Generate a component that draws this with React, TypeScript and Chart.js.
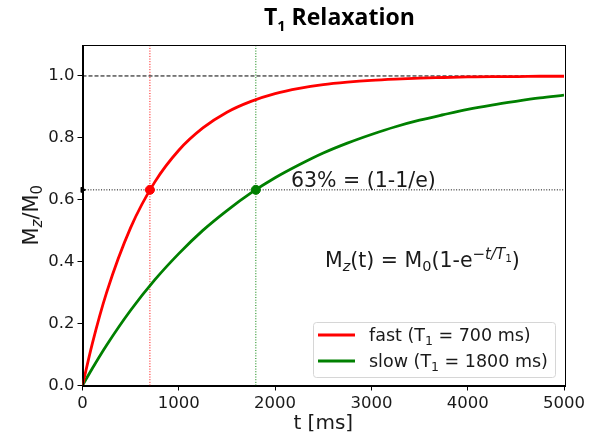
import React, { useEffect, useRef } from "react";
import { Chart, registerables } from "chart.js";

Chart.register(...registerables);

// Sample times (ms) and normalised longitudinal magnetisation Mz/M0
const timesMs = [0, 100, 250, 500, 750, 1000, 1250, 1500, 1750, 2000, 2250, 2500, 2750, 3000, 3250, 3500, 3750, 4000, 4250, 4500, 4750, 5000];
const fastMz = [0, 0.133, 0.300, 0.510, 0.657, 0.760, 0.832, 0.883, 0.918, 0.943, 0.960, 0.972, 0.980, 0.986, 0.990, 0.993, 0.995, 0.997, 0.998, 0.998, 0.999, 0.999];
const slowMz = [0, 0.054, 0.130, 0.243, 0.341, 0.426, 0.501, 0.565, 0.622, 0.671, 0.713, 0.751, 0.783, 0.811, 0.836, 0.857, 0.875, 0.892, 0.906, 0.918, 0.929, 0.938];

// T1 of each tissue and the 63 % recovery level
const t1Fast = 700;
const t1Slow = 1800;
const recoveryLevel = 0.632;
const fullLevel = 1.0;

// Axis ranges and ticks
const xMin = 0;
const xMax = 5000;
const yMin = 0;
const yMax = 1.1;
const xTicks = [0, 1000, 2000, 3000, 4000, 5000];
const yTicks = [0, 0.2, 0.4, 0.6, 0.8, 1.0];

const legendFast = "fast";
const legendSlow = "slow";

const RED = "#ff0000";
const GREEN = "#008000";
const TEXT = "#1a1a1a";
const SANS = "'DejaVu Sans', sans-serif";

type Part = { text: string; size: number; dy?: number; italic?: boolean; bold?: boolean; family?: string };

function fontOf(p: Part) {
  return `${p.italic ? "italic " : ""}${p.bold ? "bold " : ""}${p.size}px ${p.family || SANS}`;
}

// Draws a run of text pieces (with sub/superscripts) starting at x, on baseline y
function drawRich(ctx: CanvasRenderingContext2D, parts: Part[], x: number, y: number, align: "left" | "center" = "left") {
  let total = 0;
  for (const p of parts) {
    ctx.font = fontOf(p);
    total += ctx.measureText(p.text).width;
  }
  let cx = align === "center" ? x - total / 2 : x;
  ctx.textAlign = "left";
  ctx.textBaseline = "alphabetic";
  for (const p of parts) {
    ctx.font = fontOf(p);
    ctx.fillText(p.text, cx, y + (p.dy || 0));
    cx += ctx.measureText(p.text).width;
  }
}

const decorations = {
  id: "relaxationDecor",
  afterDraw(chart: any) {
    const ctx: CanvasRenderingContext2D = chart.ctx;
    const area = chart.chartArea;
    ctx.save();

    // frame
    ctx.strokeStyle = "#000";
    ctx.lineWidth = 1;
    ctx.strokeRect(Math.round(area.left) + 0.5, Math.round(area.top) + 0.5, Math.round(area.right - area.left), Math.round(area.bottom - area.top));

    ctx.fillStyle = "#000";
    // title
    drawRich(
      ctx,
      [
        { text: "T", size: 23, bold: true, family: "'Open Sans', sans-serif" },
        { text: "1", size: 14.5, bold: true, dy: 6, family: "'Open Sans', sans-serif" },
        { text: " Relaxation", size: 23, bold: true, family: "'Open Sans', sans-serif" },
      ],
      264,
      25
    );

    ctx.fillStyle = TEXT;
    // x axis title
    drawRich(ctx, [{ text: "t [ms]", size: 20 }], (area.left + area.right) / 2, 429, "center");

    // y axis title (rotated)
    ctx.save();
    ctx.translate(38, (area.top + area.bottom) / 2);
    ctx.rotate(-Math.PI / 2);
    drawRich(
      ctx,
      [
        { text: "M", size: 21 },
        { text: "z", size: 15, italic: true, dy: 4 },
        { text: "/M", size: 21 },
        { text: "0", size: 15, dy: 4 },
      ],
      0,
      0,
      "center"
    );
    ctx.restore();

    // annotations
    drawRich(ctx, [{ text: "63% = (1-1/e)", size: 20.5 }], 291, 187);
    drawRich(
      ctx,
      [
        { text: "M", size: 20.5 },
        { text: "z", size: 14.5, italic: true, dy: 4 },
        { text: "(t) = M", size: 20.5 },
        { text: "0", size: 14.5, dy: 4 },
        { text: "(1-e", size: 20.5 },
        { text: "\u2212", size: 15, dy: -8 },
        { text: "t/T", size: 15, italic: true, dy: -8 },
        { text: "1", size: 10.5, dy: -5 },
        { text: ")", size: 20.5 },
      ],
      325,
      267
    );

    // legend
    const lx = 313, ly = 322, lw = 242, lh = 55;
    ctx.fillStyle = "rgba(255,255,255,0.8)";
    ctx.strokeStyle = "#d6d6d6";
    ctx.lineWidth = 1;
    ctx.beginPath();
    (ctx as any).roundRect(lx + 0.5, ly + 0.5, lw, lh, 3);
    ctx.fill();
    ctx.stroke();

    const rows = [
      { color: RED, name: legendFast, t1: t1Fast, y: 335 },
      { color: GREEN, name: legendSlow, t1: t1Slow, y: 361 },
    ];
    for (const r of rows) {
      ctx.strokeStyle = r.color;
      ctx.lineWidth = 2.8;
      ctx.beginPath();
      ctx.moveTo(318, r.y);
      ctx.lineTo(355, r.y);
      ctx.stroke();
      ctx.fillStyle = TEXT;
      drawRich(
        ctx,
        [
          { text: `${r.name} (T`, size: 17.5 },
          { text: "1", size: 12.5, dy: 4 },
          { text: ` = ${r.t1} ms)`, size: 17.5 },
        ],
        369,
        r.y + 6
      );
    }

    ctx.restore();
  },
};

export default function App() {
  const canvasRef = useRef<HTMLCanvasElement | null>(null);

  useEffect(() => {
    const canvas = canvasRef.current;
    if (!canvas) return;

    const curve = (ys: number[]) => timesMs.map((t, i) => ({ x: t, y: ys[i] }));

    const chart = new Chart(canvas, {
      type: "line",
      data: {
        datasets: [
          {
            label: legendFast,
            data: curve(fastMz),
            borderColor: RED,
            borderWidth: 2.8,
            pointRadius: 0,
            cubicInterpolationMode: "monotone",
            order: 2,
          },
          {
            label: legendSlow,
            data: curve(slowMz),
            borderColor: GREEN,
            borderWidth: 2.8,
            pointRadius: 0,
            cubicInterpolationMode: "monotone",
            order: 2,
          },
          {
            label: "fast T1",
            data: [{ x: t1Fast, y: recoveryLevel }],
            showLine: false,
            pointRadius: 4.5,
            pointBackgroundColor: RED,
            pointBorderColor: RED,
            order: 1,
          },
          {
            label: "slow T1",
            data: [{ x: t1Slow, y: recoveryLevel }],
            showLine: false,
            pointRadius: 4.5,
            pointBackgroundColor: GREEN,
            pointBorderColor: GREEN,
            order: 1,
          },
          {
            label: "fast guide",
            data: [{ x: t1Fast, y: yMin }, { x: t1Fast, y: yMax }],
            borderColor: RED,
            borderWidth: 1,
            borderDash: [1, 1.65],
            pointRadius: 0,
            order: 5,
          },
          {
            label: "slow guide",
            data: [{ x: t1Slow, y: yMin }, { x: t1Slow, y: yMax }],
            borderColor: GREEN,
            borderWidth: 1,
            borderDash: [1, 1.65],
            pointRadius: 0,
            order: 5,
          },
          {
            label: "63%",
            data: [{ x: xMin, y: recoveryLevel }, { x: xMax, y: recoveryLevel }],
            borderColor: "#000",
            borderWidth: 1,
            borderDash: [1, 1.65],
            pointRadius: [3, 0],
            pointStyle: "triangle",
            rotation: 90,
            pointBackgroundColor: "#000",
            pointBorderColor: "#000",
            clip: false,
            order: 4,
          },
          {
            label: "full",
            data: [{ x: xMin, y: fullLevel }, { x: xMax, y: fullLevel }],
            borderColor: "#000",
            borderWidth: 1,
            borderDash: [4, 2],
            pointRadius: 0,
            order: 4,
          },
        ] as any,
      },
      options: {
        animation: false,
        responsive: false,
        maintainAspectRatio: false,
        events: [],
        layout: { padding: { left: 0, right: 36, top: 45, bottom: 0 } },
        plugins: {
          legend: { display: false },
          title: { display: false },
          tooltip: { enabled: false },
        },
        scales: {
          x: {
            type: "linear",
            min: xMin,
            max: xMax,
            afterBuildTicks: (s: any) => {
              s.ticks = xTicks.map((v) => ({ value: v }));
            },
            afterFit: (s: any) => {
              s.height = 50.5;
            },
            grid: { display: true, drawOnChartArea: false, drawTicks: true, tickLength: 5, color: "#000", tickWidth: 1 },
            border: { display: true, color: "#000", width: 1 },
            ticks: {
              color: TEXT,
              padding: 3,
              maxRotation: 0,
              font: { family: SANS, size: 16.5 },
              callback: (v: any) => String(v),
            },
          },
          y: {
            type: "linear",
            min: yMin,
            max: yMax,
            afterBuildTicks: (s: any) => {
              s.ticks = yTicks.map((v) => ({ value: v }));
            },
            afterFit: (s: any) => {
              s.width = 82.5;
            },
            grid: { display: true, drawOnChartArea: false, drawTicks: true, tickLength: 5, color: "#000", tickWidth: 1 },
            border: { display: true, color: "#000", width: 1 },
            ticks: {
              color: TEXT,
              padding: 3,
              font: { family: SANS, size: 16.5 },
              callback: (v: any) => Number(v).toFixed(1),
            },
          },
        },
      },
      plugins: [decorations],
    });

    return () => chart.destroy();
  }, []);

  return (
    <div style={{ position: "absolute", left: 0, top: 0, width: 600, height: 436, background: "#fff" }}>
      <canvas ref={canvasRef} width={600} height={436} style={{ width: 600, height: 436 }} />
    </div>
  );
}
